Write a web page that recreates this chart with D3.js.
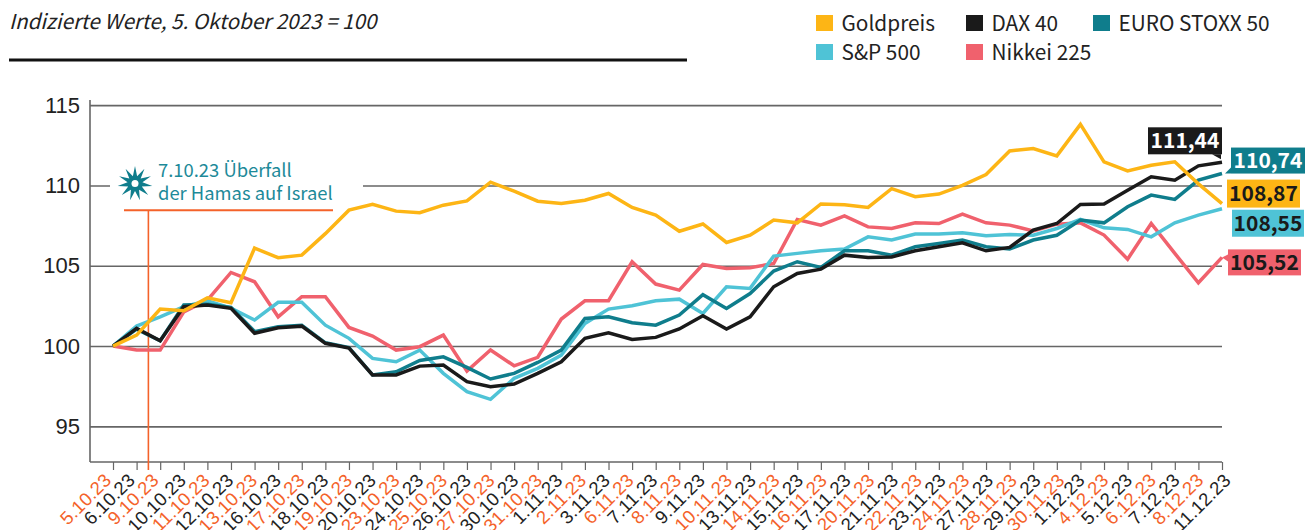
<!DOCTYPE html>
<html lang="de">
<head>
<meta charset="utf-8">
<title>Indizierte Werte</title>
<script src="https://cdn.jsdelivr.net/npm/d3@7"></script>
<style>
    html, body { margin: 0; padding: 0; background: #fff; }
    svg { display: block; font-family: "Noto Sans CJK SC", "Noto Sans", sans-serif; }
</style>
</head>
<body>
<div id="chart"></div>
<script>
// Handelstage
const dates = ["5.10.23","6.10.23","9.10.23","10.10.23","11.10.23","12.10.23","13.10.23","16.10.23","17.10.23","18.10.23","19.10.23","20.10.23","23.10.23","24.10.23","25.10.23","26.10.23","27.10.23","30.10.23","31.10.23","1.11.23","2.11.23","3.11.23","6.11.23","7.11.23","8.11.23","9.11.23","10.11.23","13.11.23","14.11.23","15.11.23","16.11.23","17.11.23","20.11.23","21.11.23","22.11.23","23.11.23","24.11.23","27.11.23","28.11.23","29.11.23","30.11.23","1.12.23","4.12.23","5.12.23","6.12.23","7.12.23","8.12.23","11.12.23"];

// Werte
const gold = [100,100.68,102.3,102.2,103,102.7,106.1,105.5,105.66,107,108.46,108.83,108.4,108.3,108.77,109.04,110.2,109.65,109.02,108.88,109.08,109.5,108.63,108.15,107.15,107.6,106.45,106.9,107.84,107.67,108.85,108.8,108.63,109.8,109.3,109.46,110,110.68,112.15,112.3,111.84,113.8,111.47,110.9,111.26,111.47,110.1,108.87];
const dax = [100,101.1,100.33,102.45,102.55,102.35,100.8,101.14,101.24,100.17,99.87,98.2,98.2,98.75,98.82,97.78,97.47,97.63,98.3,99.02,100.48,100.83,100.41,100.54,101.06,101.89,101.06,101.82,103.69,104.52,104.79,105.66,105.52,105.55,105.93,106.18,106.43,105.93,106.14,107.22,107.63,108.82,108.84,109.7,110.54,110.33,111.22,111.44];
const stoxx = [100,101.05,100.33,102.55,102.6,102.4,100.9,101.2,101.3,100.2,99.9,98.2,98.4,99.1,99.33,98.67,97.95,98.3,98.98,99.75,101.72,101.82,101.45,101.3,101.93,103.2,102.34,103.27,104.67,105.25,104.9,105.93,105.93,105.66,106.18,106.39,106.6,106.18,106.04,106.6,106.9,107.84,107.67,108.67,109.4,109.13,110.33,110.74];
const sp500 = [100,101.24,101.82,102.45,102.82,102.36,101.62,102.72,102.72,101.3,100.48,99.23,99.02,99.75,98.3,97.16,96.68,97.99,98.61,99.44,101.41,102.3,102.51,102.82,102.92,102.03,103.69,103.59,105.6,105.77,105.93,106.04,106.8,106.6,106.97,106.97,107.05,106.87,106.95,106.9,107.32,107.88,107.36,107.26,106.8,107.67,108.15,108.55];
const nikkei = [100,99.75,99.75,102.13,102.86,104.58,104,101.82,103.07,103.07,101.16,100.62,99.75,99.96,100.68,98.44,99.75,98.77,99.3,101.68,102.82,102.82,105.25,103.86,103.48,105.08,104.83,104.87,105.14,107.88,107.53,108.11,107.42,107.32,107.67,107.63,108.21,107.67,107.53,107.17,107.59,107.67,106.91,105.41,107.63,105.77,103.94,105.52];

const yTicks = [95, 100, 105, 110, 115];
const endLabels = ["111,44", "110,74", "108,87", "108,55", "105,52"];

const width = 1308;
const height = 530;
const margin = { top: 100, right: 86, bottom: 68, left: 90 };
const innerWidth = width - margin.left - margin.right;
const innerHeight = height - margin.top - margin.bottom;

const colors = { gold: "#fdb515", dax: "#1a1a1a", stoxx: "#0f7d8c", sp500: "#4fc3d6", nikkei: "#f0616d" };
const orange = "#f4622a";
const axisColor = "#666";

const svg = d3.select("#chart")
    .append("svg")
    .attr("width", width)
    .attr("height", height);

// Scales
const xScale = d3.scaleLinear().domain([0, dates.length - 1]).range([23, innerWidth]);
const yScale = d3.scaleLinear().domain([92.78, 115.32]).range([innerHeight, 0]);

const plot = svg.append("g")
    .attr("transform", `translate(${margin.left}, ${margin.top})`);

// Header
svg.append("text")
    .attr("x", 9)
    .attr("y", 29)
    .style("font-size", "20.6px")
    .style("font-style", "italic")
    .attr("fill", "#222")
    .text("Indizierte Werte, 5. Oktober 2023 = 100");

svg.append("line")
    .attr("x1", 9)
    .attr("x2", 687)
    .attr("y1", 60)
    .attr("y2", 60)
    .attr("stroke", "#111")
    .attr("stroke-width", 3);

// Legend
const legendItems = [
    { name: "Goldpreis", color: colors.gold, x: 816, y: 15 },
    { name: "DAX 40", color: colors.dax, x: 966, y: 15 },
    { name: "EURO STOXX 50", color: colors.stoxx, x: 1093, y: 15 },
    { name: "S&P 500", color: colors.sp500, x: 816, y: 44 },
    { name: "Nikkei 225", color: colors.nikkei, x: 966, y: 44 }
];

const legend = svg.append("g").selectAll("g")
    .data(legendItems)
    .join("g")
    .attr("transform", d => `translate(${d.x}, ${d.y})`);

legend.append("rect")
    .attr("width", 17)
    .attr("height", 16)
    .attr("fill", d => d.color);

legend.append("text")
    .attr("x", 25.5)
    .attr("y", 16)
    .style("font-size", "20.8px")
    .attr("fill", "#222")
    .text(d => d.name);

// y axis with gridlines
const yAxis = d3.axisLeft(yScale)
    .tickValues(yTicks)
    .tickSize(-innerWidth)
    .tickPadding(10);

const yAxisGroup = plot.append("g")
    .attr("class", "y-axis")
    .call(yAxis);

yAxisGroup.select(".domain").remove();
yAxisGroup.selectAll(".tick line")
    .attr("stroke", axisColor)
    .attr("stroke-width", 1.6);
yAxisGroup.selectAll(".tick text")
    .style("font-size", "22px")
    .attr("fill", "#222");

plot.append("line")
    .attr("y1", 0)
    .attr("y2", innerHeight)
    .attr("stroke", axisColor)
    .attr("stroke-width", 1.6);

// x axis
const xAxis = d3.axisBottom(xScale)
    .tickValues(d3.range(dates.length))
    .tickFormat(i => dates[i])
    .tickSize(8);

const xAxisGroup = plot.append("g")
    .attr("class", "x-axis")
    .attr("transform", `translate(0, ${innerHeight})`)
    .call(xAxis);

xAxisGroup.select(".domain").remove();
xAxisGroup.selectAll(".tick line")
    .attr("stroke", axisColor)
    .attr("stroke-width", 1.2);

// The labels drift right along the axis, longer dates sit a little further right
const labelShift = i => -5.5 + 7 * i / (dates.length - 1) + (dates[i].length > 7 ? 3.5 : 0);

xAxisGroup.selectAll(".tick text")
    .attr("x", 0)
    .attr("y", 0)
    .attr("dy", "0.34em")
    .attr("text-anchor", "end")
    .attr("transform", (d, i) => `translate(${labelShift(i)}, 15) rotate(-45)`)
    .style("font-size", "18.5px")
    .style("letter-spacing", "0.2px")
    .attr("fill", (d, i) => i % 2 === 0 ? orange : "#222");

plot.append("line")
    .attr("x1", 0)
    .attr("x2", innerWidth)
    .attr("y1", innerHeight)
    .attr("y2", innerHeight)
    .attr("stroke", axisColor)
    .attr("stroke-width", 1.6);

// Annotation: white gap in the 110 gridline, then the marker
plot.append("rect")
    .attr("x", 20)
    .attr("y", yScale(110) - 8)
    .attr("width", 253)
    .attr("height", 16)
    .attr("fill", "#fff");

const attackX = xScale(1.5);
const attackY = yScale(108.45);

plot.append("line")
    .attr("x1", attackX)
    .attr("x2", attackX)
    .attr("y1", attackY)
    .attr("y2", innerHeight + 8)
    .attr("stroke", orange)
    .attr("stroke-width", 1.6);

plot.append("line")
    .attr("x1", 34)
    .attr("x2", 243)
    .attr("y1", attackY)
    .attr("y2", attackY)
    .attr("stroke", orange)
    .attr("stroke-width", 2);

// Line series
const line = d3.line()
    .x((d, i) => xScale(i))
    .y(d => yScale(d));

const series = [
    { values: nikkei, color: colors.nikkei },
    { values: sp500, color: colors.sp500 },
    { values: stoxx, color: colors.stoxx },
    { values: dax, color: colors.dax },
    { values: gold, color: colors.gold }
];

plot.selectAll(".series")
    .data(series)
    .join("path")
    .attr("class", "series")
    .attr("fill", "none")
    .attr("stroke", d => d.color)
    .attr("stroke-width", 3.5)
    .attr("stroke-linejoin", "miter")
    .attr("d", d => line(d.values));

// Star next to the annotation text
const starPoints = d3.range(22).map(i => [i * Math.PI / 11, i % 2 === 0 ? 17.5 : 7.5]);
const star = plot.append("g")
    .attr("transform", `translate(45, ${yScale(110) - 2})`);

star.append("path")
    .attr("d", d3.lineRadial().curve(d3.curveLinearClosed)(starPoints))
    .attr("fill", colors.stoxx);

star.append("circle")
    .attr("r", 3.5)
    .attr("fill", "#fff");

const annotation = plot.append("text")
    .style("font-size", "18.4px")
    .attr("fill", "#1d8a99");

annotation.append("tspan")
    .attr("x", 68)
    .attr("y", 77)
    .text("7.10.23 Überfall");

annotation.append("tspan")
    .attr("x", 68)
    .attr("y", 100)
    .text("der Hamas auf Israel");

// End value tags, tip = small pointer towards the line end
const tags = [
    { text: endLabels[0], fill: colors.dax, ink: "#fff", x: 1058, dy: -35, w: 74, h: 27, tip: [[64, 27], [73, 27], [73, 32]] },
    { text: endLabels[1], fill: colors.stoxx, ink: "#fff", x: 1141, dy: -26, w: 74, h: 26, tip: [[0, 20], [0, 26], [-6, 26]] },
    { text: endLabels[2], fill: colors.gold, ink: "#1a1a1a", x: 1137, dy: -24, w: 73, h: 28, tip: [] },
    { text: endLabels[3], fill: colors.sp500, ink: "#1a1a1a", x: 1142, dy: 1, w: 72, h: 27, tip: [] },
    { text: endLabels[4], fill: colors.nikkei, ink: "#1a1a1a", x: 1138, dy: -8, w: 73, h: 26, tip: [[0, 5], [0, 12], [-6, 8]] }
];
const lastValues = [dax, stoxx, gold, sp500, nikkei].map(v => v[v.length - 1]);

const tagGroups = plot.append("g").selectAll("g")
    .data(tags)
    .join("g")
    .attr("transform", (d, i) => `translate(${d.x}, ${yScale(lastValues[i]) + d.dy})`);

tagGroups.append("rect")
    .attr("width", d => d.w)
    .attr("height", d => d.h)
    .attr("fill", d => d.fill);

tagGroups.filter(d => d.tip.length > 0)
    .append("polygon")
    .attr("points", d => d.tip.join(" "))
    .attr("fill", d => d.fill);

tagGroups.append("text")
    .attr("x", d => d.w / 2)
    .attr("y", d => d.h / 2)
    .attr("dy", "0.36em")
    .attr("text-anchor", "middle")
    .style("font-size", "21px")
    .style("font-weight", 700)
    .attr("fill", d => d.ink)
    .text(d => d.text);
</script>
</body>
</html>
